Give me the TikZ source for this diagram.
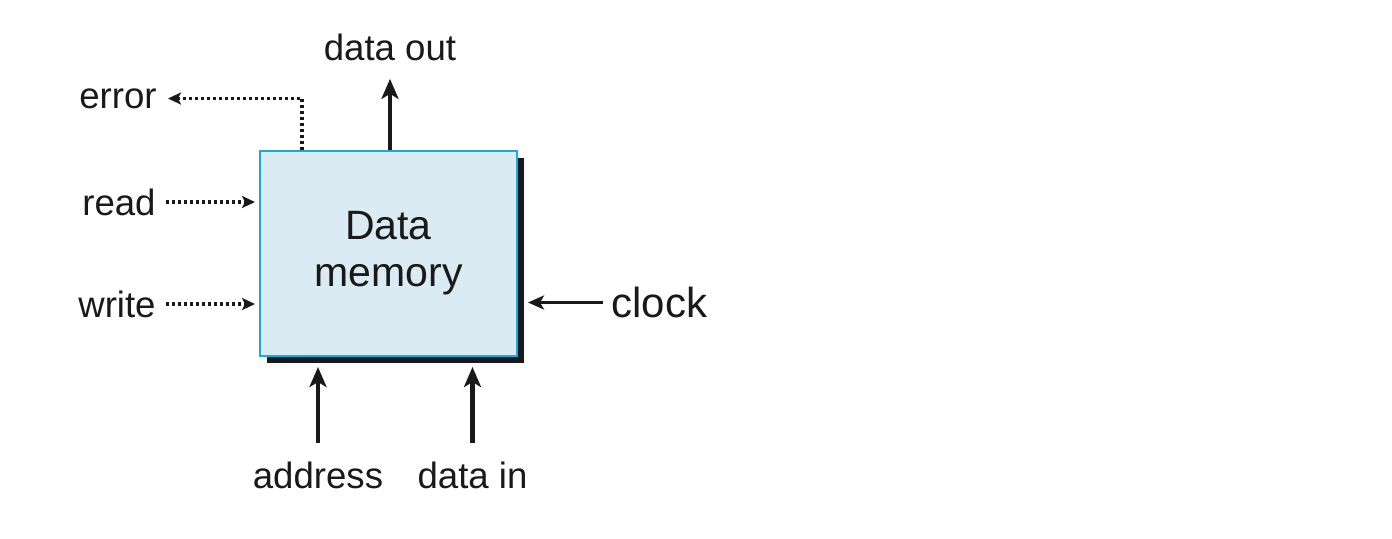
\documentclass[tikz,border=0pt]{standalone}
\usepackage{fontspec}
\setmainfont{Liberation Sans}
\usetikzlibrary{arrows.meta, shadows, calc, positioning}
\definecolor{memfill}{HTML}{DAEBF3}
\definecolor{memline}{HTML}{1BA8DA}
\tikzset {
    memory/.style = {
        draw=memline,
        fill=memfill,
        line width=1pt,
        minimum width=128.5pt,
        minimum height=102.5pt,
        align=center,
        font=\fontsize{20.5}{23.5}\selectfont,
        drop shadow={shadow xshift=3.5pt, shadow yshift=-3.5pt, fill=black!90, opacity=1}
    },
    signal/.style = {
        inner sep=0pt,
        font=\fontsize{18.3}{22}\selectfont
    },
    big signal/.style = {
        signal,
        font=\fontsize{21}{24}\selectfont
    },
    bus/.style = {
        -{Stealth[length=10pt, width=8.5pt, inset=2.5pt]},
        line width=2.3pt,
        black!90
    },
    thin bus/.style = {
        -{Stealth[length=8pt, width=7pt, inset=2pt]},
        line width=1.6pt,
        black!90
    },
    control/.style = {
        -{Stealth[length=6.5pt, width=6pt, inset=1.5pt]},
        line width=1.8pt,
        dash pattern=on 1.5pt off 1.5pt,
        black!90
    }
}
\begin{document}
\begin{tikzpicture}[x=0.5pt, y=-0.5pt, text=black!90]
        \useasboundingbox (0, 0) rectangle (1392, 538);

        % The memory block itself
        \node [memory] at (388.5, 253.5)            (mem)       {\raisebox{-1.5pt}{Data}\\\raisebox{-1.5pt}{memory}};

        % Labels : top, left, right, bottom
        \node [signal] at (390, 47)                 (dataout)   {data out};
        \node [signal, anchor=east] at (157, 98.5)  (error)     {error};
        \node [signal, anchor=east] at (156, 202)   (read)      {read};
        \node [signal, anchor=east] at (156, 304)   (write)     {write};
        \node [big signal, anchor=west] at (611, 302.5) (clock) {clock};
        \node [signal] at (318, 475)                (address)   {address};
        \node [signal] at (472.5, 475)              (datain)    {data in};

        % Solid lines
        \draw [bus]   (mem.north -| dataout.south)  --  ([yshift=-9pt]dataout.south);
        \draw [thin bus] ([xshift=-4pt]clock.west)  --  ([xshift=5pt]clock.west -| mem.east);
        \draw [bus]   ([yshift=9pt]address.north)   --  ([yshift=-5pt]address.north |- mem.south);
        \draw [bus]   ([yshift=9pt]datain.north)    --  ([yshift=-5pt]datain.north |- mem.south);

        % Dotted lines
        \draw [control] ([xshift=21.5pt]mem.north west) |- ([xshift=5.5pt]error.east);
        \draw [control] ([xshift=5pt]read.east)       --  ([xshift=-2pt]read.east -| mem.west);
        \draw [control] ([xshift=5pt]write.east)      --  ([xshift=-2pt]write.east -| mem.west);
    \end{tikzpicture}
\end{document}
